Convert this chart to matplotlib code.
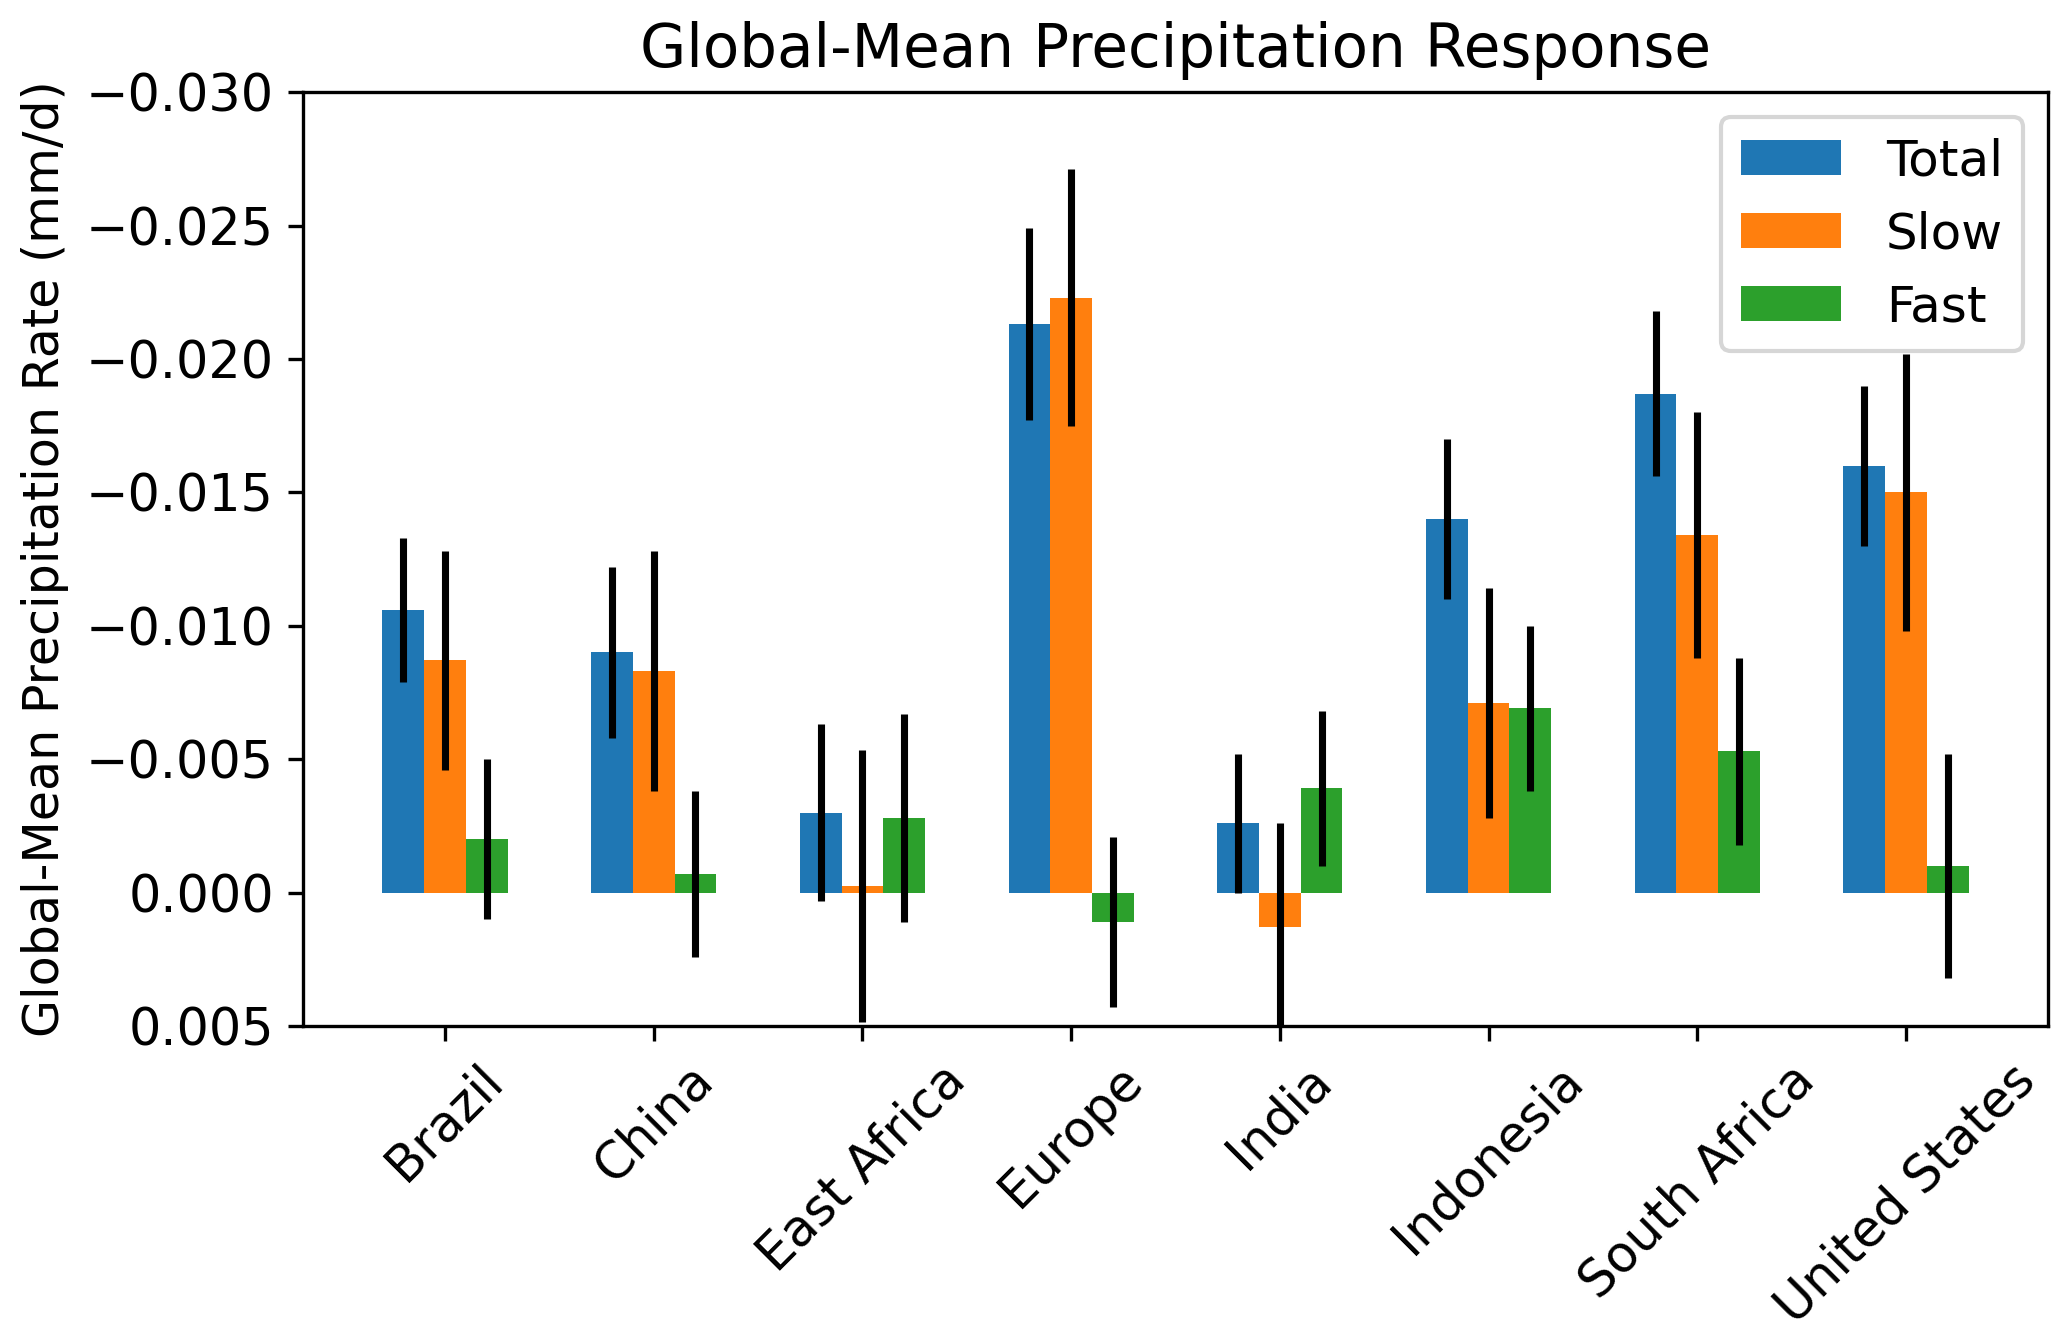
import numpy as np
import matplotlib
matplotlib.use("Agg")
import matplotlib.pyplot as plt

regions = ["Brazil", "China", "East Africa", "Europe", "India",
           "Indonesia", "South Africa", "United States"]

total = [-0.0106, -0.0090, -0.0030, -0.0213, -0.0026, -0.0140, -0.0187, -0.0160]
slow = [-0.0087, -0.0083, -0.00025, -0.0223, 0.0013, -0.0071, -0.0134, -0.0150]
fast = [-0.0020, -0.0007, -0.0028, 0.0011, -0.0039, -0.0069, -0.0053, -0.0010]

total_err = [0.0027, 0.0032, 0.0033, 0.0036, 0.0026, 0.0030, 0.0031, 0.0030]
slow_err = [0.0041, 0.0045, 0.0051, 0.0048, 0.0039, 0.0043, 0.0046, 0.0052]
fast_err = [0.0030, 0.0031, 0.0039, 0.0032, 0.0029, 0.0031, 0.0035, 0.0042]

x = np.arange(len(regions))
w = 0.2

fig = plt.figure(figsize=(6.89, 4.45), dpi=300)
ax = fig.add_axes([0.1466, 0.2315, 0.8442, 0.6995])

ekw = dict(elinewidth=1.7, ecolor='k', capsize=0)
ax.bar(x - w, total, w, yerr=total_err, color='tab:blue', label='Total', error_kw=ekw)
ax.bar(x, slow, w, yerr=slow_err, color='tab:orange', label='Slow', error_kw=ekw)
ax.bar(x + w, fast, w, yerr=fast_err, color='tab:green', label='Fast', error_kw=ekw)

ax.set_ylim(0.005, -0.030)
ax.set_yticks(np.arange(-0.030, 0.0051, 0.005))
ax.set_xticks(x)
ax.set_xticklabels(regions, rotation=45, ha='center')
ax.tick_params(labelsize=12.2)
ax.set_ylabel('Global-Mean Precipitation Rate (mm/d)', fontsize=11.8)
ax.set_title('Global-Mean Precipitation Response', fontsize=14.3)
ax.legend(fontsize=12, loc='upper right', handletextpad=0.9)

fig.savefig('out.png', dpi=300)
